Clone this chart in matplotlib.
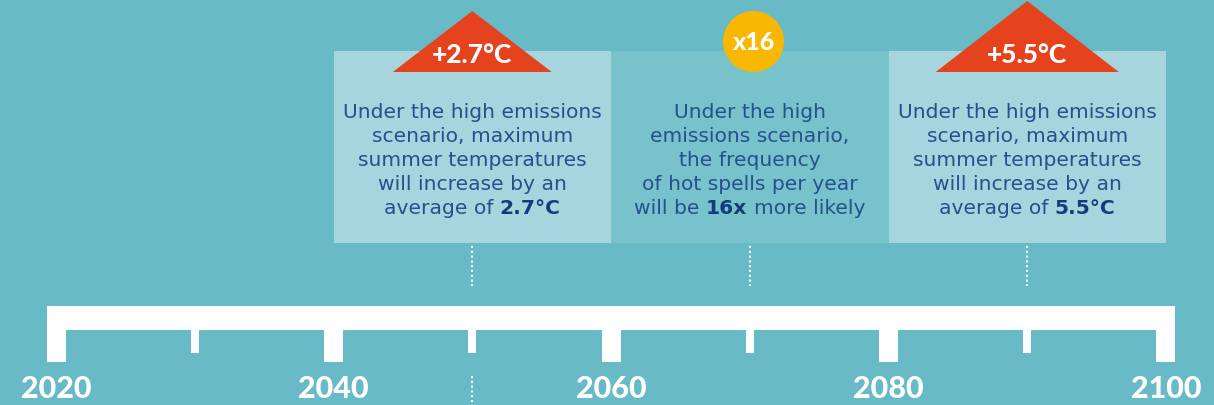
import matplotlib.pyplot as plt
from matplotlib.patches import Rectangle, Polygon

# timeline
years = [2020, 2030, 2040, 2050, 2060, 2070, 2080, 2090, 2100]
year_labels = ['2020', '', '2040', '', '2060', '', '2080', '', '2100']
is_major = [True, False, True, False, True, False, True, False, True]

# events
event_years = [2050, 2070, 2090]
box_start = [2040, 2060, 2080]
box_end = [2060, 2080, 2100]
badges = ['+2.7°C', 'x16', '+5.5°C']
badge_shape = ['triangle', 'circle', 'triangle']
body_lines = [
    ['Under the high emissions', 'scenario, maximum', 'summer temperatures', 'will increase by an'],
    ['Under the high', 'emissions scenario,', 'the frequency', 'of hot spells per year'],
    ['Under the high emissions', 'scenario, maximum', 'summer temperatures', 'will increase by an'],
]
last_before = ['average of', 'will be', 'average of']
last_bold = ['2.7°C', '16x', '5.5°C']
last_after = ['', 'more likely', '']
lower_dotted = [2050]

bg = '#67BAC6'
box_colors = ['#A6D5DD', '#77C2CB', '#A6D5DD']
orange = '#E5421E'
yellow = '#F9B700'
body_col = '#27508F'
bold_col = '#143B7C'

fig = plt.figure(figsize=(12.14, 4.05), dpi=100)
fig.patch.set_facecolor(bg)
ax = fig.add_axes([0, 0, 1, 1])
ax.set_facecolor(bg)
ax.set_xlim(2015.96, 2103.46)
ax.set_ylim(405, 0)
ax.axis('off')
px = 1214 / (2103.46 - 2015.96)  # pixels per year

# boxes
for s, e, c in zip(box_start, box_end, box_colors):
    ax.add_patch(Rectangle((s, 51), e - s, 192, color=c, lw=0, zorder=1))

# badges
tri_size = {'+2.7°C': (159, 61), '+5.5°C': (183, 71)}
for yr, lab, shp in zip(event_years, badges, badge_shape):
    if shp == 'triangle':
        w, h = tri_size[lab]
        hw = w / 2 / px
        ax.add_patch(Polygon([(yr - hw, 72), (yr + hw, 72), (yr, 72 - h)],
                             color=orange, lw=0, zorder=3))
        ax.text(yr, 55, lab, ha='center', va='center', color='white',
                fontsize=19, fontweight=900, family='Lato', zorder=4)
    else:
        ax.scatter([yr + 0.25], [41], s=(61 * 0.72) ** 2, color=yellow, lw=0, zorder=3)
        ax.text(yr + 0.25, 42, lab, ha='center', va='center', color='white',
                fontsize=18, fontweight=900, family='Lato', zorder=4)

# body text
r = fig.canvas.get_renderer()
body_kw = dict(family='DejaVu Sans', fontsize=14.6, va='baseline', zorder=4)
sp = (ax.text(0, 0, 'x x', **body_kw).get_window_extent(r).width
      - ax.text(0, 0, 'xx', **body_kw).get_window_extent(r).width)
for t in list(ax.texts)[-2:]:
    t.remove()
for i, yr in enumerate(event_years):
    for j, line in enumerate(body_lines[i]):
        ax.text(yr, 117.5 + 24.1 * j, line, ha='center', color=body_col, **body_kw)
    yb = 117.5 + 24.1 * 4
    parts = [(last_before[i], 'normal', body_col), (last_bold[i], 'bold', bold_col),
             (last_after[i], 'normal', body_col)]
    parts = [p for p in parts if p[0]]
    arts = [ax.text(yr, yb, s, ha='left', color=c, fontweight=fw, **body_kw) for s, fw, c in parts]
    widths = [a.get_window_extent(r).width for a in arts]
    total = sum(widths) + sp * (len(arts) - 1)
    x = ax.transData.transform((yr, yb))[0] - total / 2
    for a, w in zip(arts, widths):
        a.set_x(ax.transData.inverted().transform((x, 0))[0])
        x += w + sp

# dotted connectors
ax.vlines(event_years, 246, 286, colors='white', lw=1.5, linestyles=(0, (1, 1.3)), zorder=2)
ax.vlines(lower_dotted, 376, 405, colors='white', lw=1.5, linestyles=(0, (1, 1.3)), zorder=2)

# timeline bar
maj_w = 19 / px
min_w = 8 / px
ax.barh(318, years[-1] - years[0] + maj_w, left=years[0] - maj_w / 2, height=24,
        color='white', lw=0, zorder=2)
ax.bar(years, [56 if m else 47 for m in is_major], bottom=306,
       width=[maj_w if m else min_w for m in is_major], color='white', lw=0, zorder=2)

for yr, lab in zip(years, year_labels):
    if lab:
        ax.text(yr, 389, lab, ha='center', va='center', color='white',
                fontsize=22, fontweight=900, family='Lato')

fig.savefig('out.png', dpi=100, facecolor=bg)
